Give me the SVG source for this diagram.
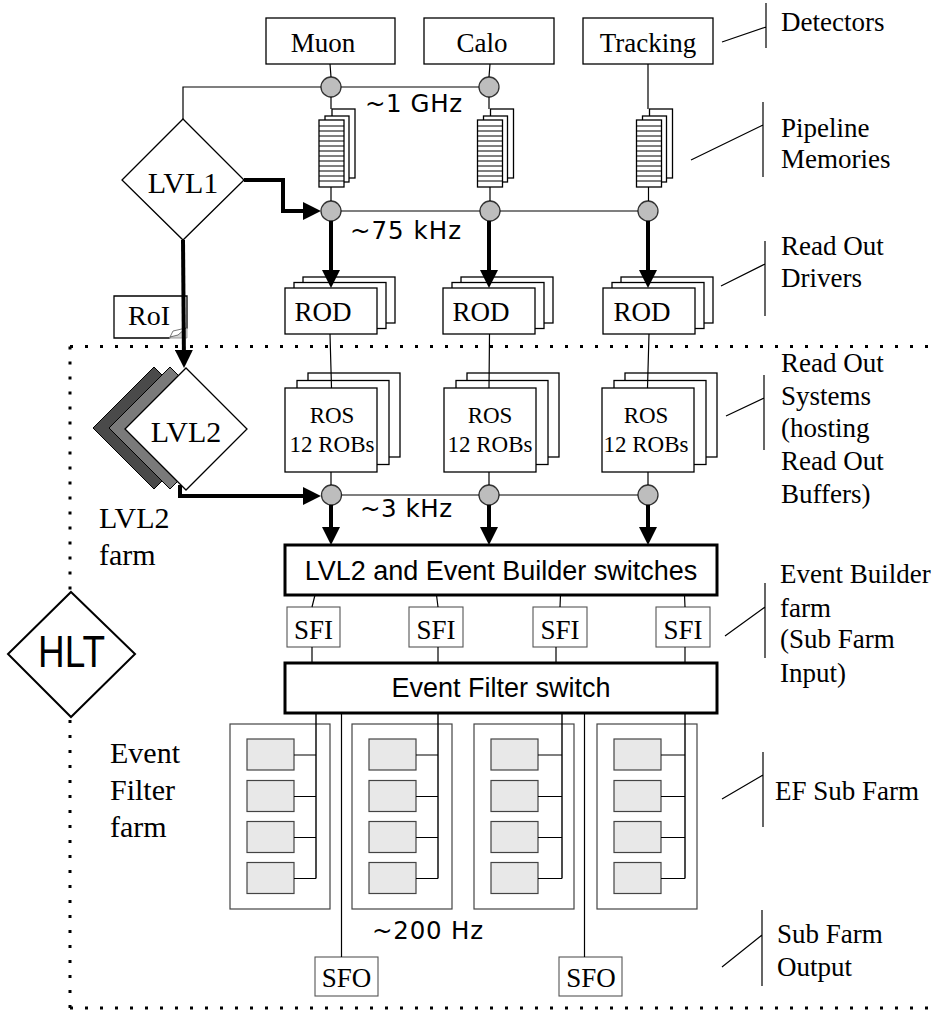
<svg xmlns="http://www.w3.org/2000/svg" width="933" height="1015" viewBox="0 0 933 1015">
<style>
 .box{fill:#fff;stroke:#000;stroke-width:1.3}
 .sbox{fill:#fff;stroke:#555;stroke-width:1.1}
 .ln{fill:none;stroke:#000;stroke-width:1.2}
 .thin{fill:none;stroke:#000;stroke-width:1}
 .thick{fill:none;stroke:#000;stroke-width:4}
 .sw{fill:#fff;stroke:#000;stroke-width:3}
 .dot{fill:none;stroke:#000;stroke-width:3;stroke-dasharray:3 12}
 .circ{fill:#bdbdbd;stroke:#333;stroke-width:1.3}
 .cell{fill:#e8e8e8;stroke:#444;stroke-width:1.2}
 .frame{fill:#fff;stroke:#444;stroke-width:1.2}
 .bus{fill:none;stroke:#000;stroke-width:1.4}
 .serif{font-family:"Liberation Serif","Times New Roman",serif;fill:#000}
 .sans{font-family:"Liberation Sans",Arial,sans-serif;fill:#000}
 .rate{font-family:"DejaVu Sans",sans-serif;font-size:24.5px;fill:#000}
 .lbl{font-size:27px}
 .big{font-size:30px}
 .mid{text-anchor:middle}
</style>
<defs>
 <marker id="ah" viewBox="0 0 10 10" refX="7.8" refY="5" markerWidth="4.5" markerHeight="4.5" orient="auto" markerUnits="strokeWidth">
  <path d="M0,0 L10,5 L0,10 Z" fill="#000"/>
 </marker>
 <g id="pipe">
  <rect x="13" y="-11" width="23" height="69" class="box"/>
  <rect x="6" y="-4" width="24" height="66" class="box"/>
  <rect x="0" y="0" width="25" height="67" class="box"/>
  <path d="M0,6H25M0,11H25M0,16H25M0,21H25M0,26H25M0,31H25M0,36H25M0,41H25M0,46H25M0,51H25M0,56H25M0,61H25" class="thin"/>
 </g>
 <g id="rod">
  <rect x="18" y="-11" width="92" height="46" class="box"/>
  <rect x="9" y="-5.5" width="92" height="46" class="box"/>
  <rect x="0" y="0" width="92" height="46" class="box"/>
 </g>
 <g id="ros">
  <rect x="23" y="-15" width="92" height="84" class="box"/>
  <rect x="12" y="-7.5" width="92" height="84" class="box"/>
  <rect x="0" y="0" width="92" height="84" class="box"/>
 </g>
 <g id="subfarm">
  <rect x="0" y="0" width="100" height="185" class="frame"/>
  <rect x="17" y="15" width="47" height="31" class="cell"/>
  <rect x="17" y="56.5" width="47" height="31" class="cell"/>
  <rect x="17" y="97.5" width="47" height="31" class="cell"/>
  <rect x="17" y="138.5" width="47" height="31" class="cell"/>
 </g>
</defs>

<!-- HLT dotted border -->
<g id="hlt-border">
 <path d="M70,346.5 H933" class="dot"/>
 <path d="M70,346.5 V590" class="dot"/>
 <path d="M70,1008 V718" class="dot"/>
 <path d="M70,1008 H933" class="dot"/>
</g>

<!-- Nodes -->
<g id="muon"><rect x="266" y="18" width="129" height="46" class="box"/><text x="323" y="52" class="serif lbl mid">Muon</text></g>
<g id="calo"><rect x="424" y="18" width="130" height="46" class="box"/><text x="482" y="52" class="serif lbl mid">Calo</text></g>
<g id="tracking"><rect x="583" y="18" width="130" height="46" class="box"/><text x="648" y="52" class="serif lbl mid">Tracking</text></g>

<g id="pipe-muon"><use href="#pipe" x="319" y="120"/></g>
<g id="pipe-calo"><use href="#pipe" x="477.5" y="120"/></g>
<g id="pipe-tracking"><use href="#pipe" x="636.5" y="120"/></g>

<g id="circles">
 <circle cx="331" cy="87" r="10" class="circ"/>
 <circle cx="489" cy="87" r="10" class="circ"/>
 <circle cx="331" cy="211" r="10" class="circ"/>
 <circle cx="490" cy="211" r="10" class="circ"/>
 <circle cx="648" cy="211" r="10" class="circ"/>
 <circle cx="331.5" cy="495" r="10" class="circ"/>
 <circle cx="489" cy="495" r="10" class="circ"/>
 <circle cx="648" cy="495" r="10" class="circ"/>
</g>

<g id="lvl1">
 <polygon points="183,119 244,180 183,240 122,180" class="box"/>
 <text x="183" y="193" class="serif big mid">LVL1</text>
</g>

<g id="roi">
 <path d="M114,296 H187 V328 L169,338 H114 Z" class="box"/>
 <path d="M169,338 L187,328 L187,338 Z" fill="#d4d4d4" stroke="#888" stroke-width="0.8"/>
 <path d="M170,337 L173,331 L186,328 L178,335 Z" fill="#fff" stroke="#555" stroke-width="0.8"/>
 <text x="149" y="325" class="serif mid" font-size="28">RoI</text>
</g>

<g id="rod-1"><use href="#rod" x="285" y="288"/><text x="323" y="321" class="serif lbl mid">ROD</text></g>
<g id="rod-2"><use href="#rod" x="443" y="288"/><text x="481" y="321" class="serif lbl mid">ROD</text></g>
<g id="rod-3"><use href="#rod" x="603" y="288"/><text x="642" y="321" class="serif lbl mid">ROD</text></g>

<g id="ros-1"><use href="#ros" x="285" y="388"/><text x="332" y="423" class="serif mid" font-size="23">ROS</text><text x="332" y="452" class="serif mid" font-size="23">12 ROBs</text></g>
<g id="ros-2"><use href="#ros" x="444" y="388"/><text x="490" y="423" class="serif mid" font-size="23">ROS</text><text x="490" y="452" class="serif mid" font-size="23">12 ROBs</text></g>
<g id="ros-3"><use href="#ros" x="602" y="388"/><text x="646" y="423" class="serif mid" font-size="23">ROS</text><text x="646" y="452" class="serif mid" font-size="23">12 ROBs</text></g>

<g id="lvl2">
 <polygon points="154,367 215,428 154,489 93,428" fill="#4a4a4a" stroke="#000" stroke-width="1"/>
 <polygon points="170,367 231,428 170,489 109,428" fill="#7a7a7a" stroke="#000" stroke-width="1"/>
 <polygon points="186,368 247,429 186,490 125,429" class="box"/>
 <text x="186" y="442" class="serif big mid">LVL2</text>
</g>

<g id="eb-switch">
 <rect x="285" y="545" width="432" height="50" class="sw"/>
 <text x="501" y="580" class="sans lbl mid">LVL2 and Event Builder switches</text>
</g>

<g id="sfi-1"><rect x="287" y="607" width="53" height="40" class="sbox"/><text x="313.5" y="639" class="serif lbl mid">SFI</text></g>
<g id="sfi-2"><rect x="409" y="607" width="54" height="40" class="sbox"/><text x="436" y="639" class="serif lbl mid">SFI</text></g>
<g id="sfi-3"><rect x="533" y="607" width="54" height="40" class="sbox"/><text x="560" y="639" class="serif lbl mid">SFI</text></g>
<g id="sfi-4"><rect x="656" y="607" width="54" height="40" class="sbox"/><text x="683" y="639" class="serif lbl mid">SFI</text></g>

<g id="ef-switch">
 <rect x="285" y="663" width="432" height="50" class="sw"/>
 <text x="501" y="697" class="sans lbl mid">Event Filter switch</text>
</g>

<g id="subfarm-1"><use href="#subfarm" x="230" y="724"/></g>
<g id="subfarm-2"><use href="#subfarm" x="352" y="724"/></g>
<g id="subfarm-3"><use href="#subfarm" x="474" y="724"/></g>
<g id="subfarm-4"><use href="#subfarm" x="597" y="724"/></g>

<g id="sfo-1"><rect x="315" y="957" width="63" height="39" class="sbox"/><text x="346.5" y="987" class="serif lbl mid">SFO</text></g>
<g id="sfo-2"><rect x="559" y="957" width="63" height="39" class="sbox"/><text x="591" y="987" class="serif lbl mid">SFO</text></g>

<g id="hlt">
 <polygon points="71,592 135,654 71,717 8,654" fill="#fff" stroke="#000" stroke-width="2"/>
 <text x="38" y="667" class="sans" font-size="44" textLength="67" lengthAdjust="spacingAndGlyphs">HLT</text>
</g>

<!-- Connectors -->
<g id="connectors">
 <!-- detectors to circles / pipelines -->
 <path d="M330,64 L331,77 M331,97 V109 M331,187 V201" class="ln"/>
 <path d="M490,64 L489,77 M489,97 V109 M490,187 V201" class="ln"/>
 <path d="M648,64 V109 M648.5,187 V201" class="ln"/>
 <!-- clock / trigger lines -->
 <path d="M183,119 V87 H321 M341,87 H479" class="ln"/>
 <path d="M341,211 H480 M500,211 H638" class="ln"/>
 <!-- LVL1 accept -->
 <path d="M244,180 H283 V211 H317" class="thick" marker-end="url(#ah)"/>
 <!-- to RODs -->
 <path d="M331,221 V284" class="thick" marker-end="url(#ah)"/>
 <path d="M489,221 V284" class="thick" marker-end="url(#ah)"/>
 <path d="M648,221 V284" class="thick" marker-end="url(#ah)"/>
 <!-- LVL1 to LVL2 via RoI -->
 <path d="M183,240 L184,364" class="thick" marker-end="url(#ah)"/>
 <!-- ROD to ROS -->
 <path d="M330,334 L331.5,388 M489.5,334 L489,388 M649,334 L647.5,388" class="ln"/>
 <!-- ROS to circles -->
 <path d="M331,472 V485 M489,472 V485 M648,472 V485" class="ln"/>
 <path d="M341.5,495 H479 M499,495 H638" class="ln"/>
 <!-- LVL2 decision -->
 <path d="M180,485 V496 H317" class="thick" marker-end="url(#ah)"/>
 <!-- to switches -->
 <path d="M331,505 V541" class="thick" marker-end="url(#ah)"/>
 <path d="M489,505 V541" class="thick" marker-end="url(#ah)"/>
 <path d="M648,505 V541" class="thick" marker-end="url(#ah)"/>
 <!-- switch to SFI to EF switch -->
 <path d="M315,595 L312,607 M436.5,595 L438,607 M560.5,595 L560,607 M684.5,595 L685,607" class="ln"/>
 <path d="M312,647 V663 M438,647 V663 M556,647 V663 M685,647 V663" class="ln"/>
 <!-- EF buses -->
 <path d="M316,713 V878.5 M438,713 V878.5 M562,713 V878.5 M685,713 V878.5" class="bus"/>
 <path d="M294,755H316M294,796.5H316M294,837.5H316M294,878.5H316" class="ln"/>
 <path d="M416,755H438M416,796.5H438M416,837.5H438M416,878.5H438" class="ln"/>
 <path d="M538,755H562M538,796.5H562M538,837.5H562M538,878.5H562" class="ln"/>
 <path d="M661,755H685M661,796.5H685M661,837.5H685M661,878.5H685" class="ln"/>
 <!-- SFO lines -->
 <path d="M341.5,713 V957 M584.5,713 V957" class="ln"/>
</g>

<!-- rates -->
<g id="rates">
 <text x="365" y="112" class="rate" textLength="97" lengthAdjust="spacing">~1 GHz</text>
 <text x="350" y="239" class="rate" textLength="111" lengthAdjust="spacing">~75 kHz</text>
 <text x="360" y="517" class="rate" textLength="92" lengthAdjust="spacing">~3 kHz</text>
 <text x="372" y="939" class="rate" textLength="111" lengthAdjust="spacing">~200 Hz</text>
</g>

<!-- left labels -->
<g id="left-labels" class="serif big">
 <text x="99" y="528">LVL2</text>
 <text x="99" y="565">farm</text>
 <text x="110" y="763">Event</text>
 <text x="110" y="800">Filter</text>
 <text x="110" y="837">farm</text>
</g>

<!-- right-side legend brackets -->
<g id="legend" class="ln">
 <path d="M766,3 V48 M722,42 L766,27"/>
 <path d="M763,102 V177 M691,160 L763,125"/>
 <path d="M765,241 V316 M721,286 L765,264"/>
 <path d="M764,375 V450 M726,416 L764,398"/>
 <path d="M765,583 V658 M725,636 L765,607"/>
 <path d="M763,752 V827 M722,799 L763,775"/>
 <path d="M762,910 V986 M722,967 L762,935"/>
</g>
<g id="legend-text" class="serif lbl">
 <text x="781" y="31">Detectors</text>
 <text x="781" y="137">Pipeline</text>
 <text x="781" y="168">Memories</text>
 <text x="781" y="255">Read Out</text>
 <text x="781" y="287">Drivers</text>
 <text x="781" y="372">Read Out</text>
 <text x="781" y="405">Systems</text>
 <text x="781" y="437">(hosting</text>
 <text x="781" y="470">Read Out</text>
 <text x="781" y="503">Buffers)</text>
 <text x="780" y="583">Event Builder</text>
 <text x="780" y="617">farm</text>
 <text x="780" y="648">(Sub Farm</text>
 <text x="780" y="682">Input)</text>
 <text x="775" y="800">EF Sub Farm</text>
 <text x="777" y="943">Sub Farm</text>
 <text x="777" y="976">Output</text>
</g>
</svg>
